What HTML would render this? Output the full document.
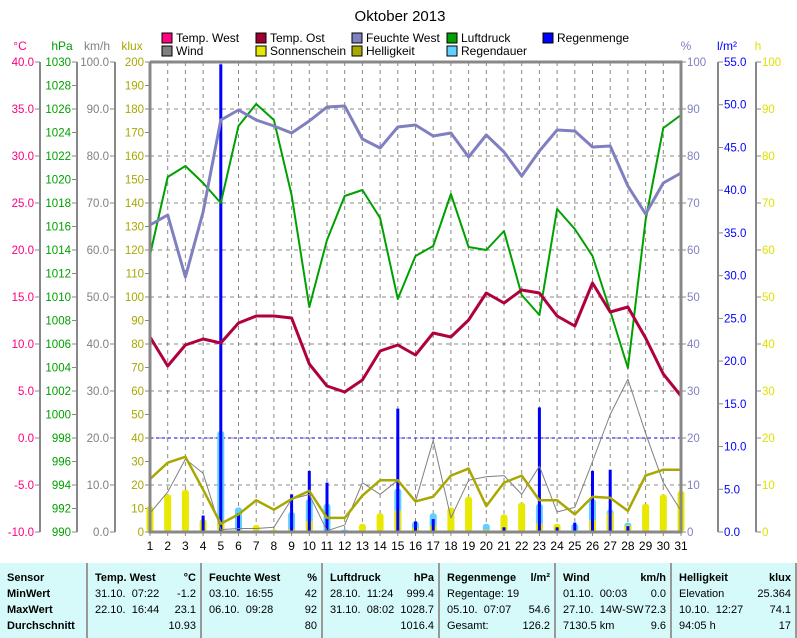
<!DOCTYPE html>
<html><head><meta charset="utf-8"><style>
body{margin:0;width:797px;height:638px;background:#fff;overflow:hidden;font-family:"Liberation Sans",sans-serif}
svg{position:absolute;left:0;top:0}
#tbl{position:absolute;left:0;top:563px;width:797px;height:75px;background:#d6fafa;font-family:"Liberation Sans Narrow","Liberation Sans",sans-serif;font-size:11px}
.c{position:absolute;top:0;height:75px;border-right:2px solid #999}
.r{position:absolute;white-space:nowrap}
</style></head><body>
<svg id="s" width="797" height="563" xmlns="http://www.w3.org/2000/svg" font-family="Liberation Sans, sans-serif"></svg>
<div id="tbl"></div>
<script>
const s=document.getElementById('s');let h='';
const X=d=>150+(d-1)*17.7, Y=v=>532-v*2.35;
h+='<text x="400" y="21" font-size="15" text-anchor="middle">Oktober 2013</text>';
const lg=[[162,38,'#ff0080','Temp. West'],[162,51,'#808080','Wind'],[256,38,'#a00030','Temp. Ost'],[256,51,'#e8e800','Sonnenschein'],[352,38,'#8080c0','Feuchte West'],[352,51,'#a8a800','Helligkeit'],[447,38,'#00a000','Luftdruck'],[447,51,'#60d0ff','Regendauer'],[543,38,'#0000ff','Regenmenge']];
lg.forEach(l=>{h+=`<rect x="${l[0]}" y="${l[1]-5}" width="10" height="10" fill="${l[2]}" stroke="#000"/><text x="${l[0]+14}" y="${l[1]+4}" font-size="12">${l[3]}</text>`});
for(let d=2;d<=30;d++)h+=`<line x1="${X(d)}" y1="62" x2="${X(d)}" y2="532" stroke="#888" stroke-dasharray="4,4"/>`;
for(let k=20;k<200;k+=20)h+=`<line x1="150" y1="${Y(k)}" x2="681" y2="${Y(k)}" stroke="#888" stroke-dasharray="4,4"/>`;
h+=`<line x1="150" y1="${Y(40)}" x2="681" y2="${Y(40)}" stroke="#0000ff" stroke-dasharray="3,3"/>`;
const ax=[[40,'#ff0080','°C',i=>(40-5*i).toFixed(1),10,47,20],[77,'#00a000','hPa',i=>1030-2*i,20,23.5,62],[115,'#808080','km/h',i=>(100-10*i).toFixed(1),10,47,97],[150,'#a8a800','klux',i=>200-10*i,20,23.5,132]];
ax.forEach(a=>{h+=`<text x="${a[6]}" y="50" font-size="12" fill="${a[1]}" text-anchor="middle">${a[2]}</text>`;
 if(a[0]!=150)h+=`<line x1="${a[0]}" y1="62" x2="${a[0]}" y2="532" stroke="#888" stroke-width="2"/>`;
 for(let i=0;i<=a[4];i++){const y=62+i*a[5];h+=`<line x1="${a[0]-5}" y1="${y}" x2="${a[0]}" y2="${y}" stroke="#888"/><text x="${a[0]-6}" y="${y+4}" font-size="11.5" fill="${a[1]}" text-anchor="end">${a[3](i)}</text>`}});
const ar=[[681,'#8080c0','%',i=>100-10*i,10,47,686],[718,'#0000ff','l/m²',i=>(55-5*i).toFixed(1),11,470/11,727],[756,'#e0e000','h',i=>100-10*i,10,47,758]];
ar.forEach(a=>{h+=`<text x="${a[6]}" y="50" font-size="12" fill="${a[1]}" text-anchor="middle">${a[2]}</text>`;
 if(a[0]!=681)h+=`<line x1="${a[0]}" y1="62" x2="${a[0]}" y2="532" stroke="#888" stroke-width="2"/>`;
 for(let i=0;i<=a[4];i++){const y=62+i*a[5];h+=`<line x1="${a[0]}" y1="${y}" x2="${a[0]+5}" y2="${y}" stroke="#888"/><text x="${a[0]+6}" y="${y+4}" font-size="11.5" fill="${a[1]}">${a[3](i)}</text>`}});
const sun=[11,16,18,5.5,5,1,3,1,1.5,5,0,0.5,3.5,8,9.5,2,3,10.5,15,1,7.5,12.5,4,3.5,1,5.5,8.5,3,12,16,17.5];
const rd={5:43,6:10.5,9:8.5,10:14,11:12,12:1,15:18.5,16:4.5,17:8,20:3.5,23:12,25:3.5,26:14,27:9.5,28:4};
for(const d in rd)h+=`<rect x="${X(+d)-3.5}" y="${Y(rd[d])}" width="7" height="${rd[d]*2.35}" rx="3" fill="#60d0ff"/>`;
sun.forEach((v,i)=>{if(v>0)h+=`<rect x="${X(i+1)-3.5}" y="${Y(v)}" width="7" height="${v*2.35}" rx="3" fill="#e8e800"/>`});
const rm={4:7,5:199,6:8,9:16,10:26,11:21,14:0.5,15:52.5,16:4.5,17:5.5,21:2,23:53,24:2,25:4,26:26,27:26.5,28:2.5};
for(const d in rm)h+=`<rect x="${X(+d)-1.5}" y="${Y(rm[d])}" width="3" height="${rm[d]*2.35}" fill="#0000ff"/>`;
const pl=(a,c,w,f)=>'<polyline fill="none" stroke="'+c+'" stroke-width="'+w+'" stroke-linejoin="round" points="'+a.map((v,i)=>X(i+1)+','+f(v)).join(' ')+'"/>';
const wind=[8,17,31,25,1,1.5,1.5,2,14,16,0.5,3,21,16,22,13,39,6,22,23.5,24,16,28,8.5,10.5,30,50,65,42,21,9];
h+=pl(wind,'#808080',1,Y);
const hel=[22.5,29.5,32,18,3.5,7.5,13.5,9.5,14,17.5,6,6,15.5,22,22,13,15,24,27,11,21,24,13.5,13.5,7.5,15,14.5,9,24,26.5,26.5];
h+=pl(hel,'#a8a800',2.5,Y);
const lp=[255,177,166,183,203,126,104,120,195,307,240,196,190,218,299,256,246,194,247,250,231,295,315,209,229,256,311,368,220,128,115];
h+=pl(lp,'#00a000',2,v=>v);
const fe=[225,215,277,212,120,110,120,126,133,121,107,106,139,148,127,125,136,133,157,135,152,176,151,130,131,147,146,186,214,183,173];
h+=pl(fe,'#8080c0',3,v=>v);
const tw=[337,366,345,339,343,323,316,316,318,364,386,392,380,351,345,355,333,337,320,293,303,290,293,316,326,283,312,307,338,374,396];
h+=pl(tw,'#b00040',3,v=>v);
h+='<polyline points="150,62 681,62 681,532 150,532 150,62" fill="none" stroke="#888" stroke-width="3"/>';
for(let d=1;d<=31;d++)h+=`<line x1="${X(d)}" y1="532" x2="${X(d)}" y2="536" stroke="#888"/><text x="${X(d)}" y="550" font-size="12" text-anchor="middle">${d}</text>`;
s.innerHTML=h;
const cols=[[0,88],[88,202],[202,323],[323,440],[440,556],[556,672],[672,797]];
const data=[
[['Sensor',''],['MinWert',''],['MaxWert',''],['Durchschnitt','']],
[['Temp. West','°C'],['31.10.  07:22','-1.2'],['22.10.  16:44','23.1'],['','10.93']],
[['Feuchte West','%'],['03.10.  16:55','42'],['06.10.  09:28','92'],['','80']],
[['Luftdruck','hPa'],['28.10.  11:24','999.4'],['31.10.  08:02','1028.7'],['','1016.4']],
[['Regenmenge','l/m²'],['Regentage: 19',''],['05.10.  07:07','54.6'],['Gesamt:','126.2']],
[['Wind','km/h'],['01.10.  00:03','0.0'],['27.10.  14W-SW','72.3'],['7130.5 km','9.6']],
[['Helligkeit','klux'],['Elevation','25.364'],['10.10.  12:27','74.1'],['94:05 h','17']]];
let t='';
cols.forEach((c,i)=>{t+=`<div class="c" style="left:${c[0]}px;width:${c[1]-c[0]-2}px">`;
 data[i].forEach((r,j)=>{const y=9+j*16,b=j==0||i==0?'font-weight:bold;':'';
 t+=`<div class="r" style="left:7px;top:${y}px;${b}">${r[0].replace(/  /g,'&nbsp;&nbsp;')}</div><div class="r" style="right:4px;top:${y}px;${b}">${r[1]}</div>`});
 t+='</div>'});
document.getElementById('tbl').innerHTML=t;
</script>
</body></html>
